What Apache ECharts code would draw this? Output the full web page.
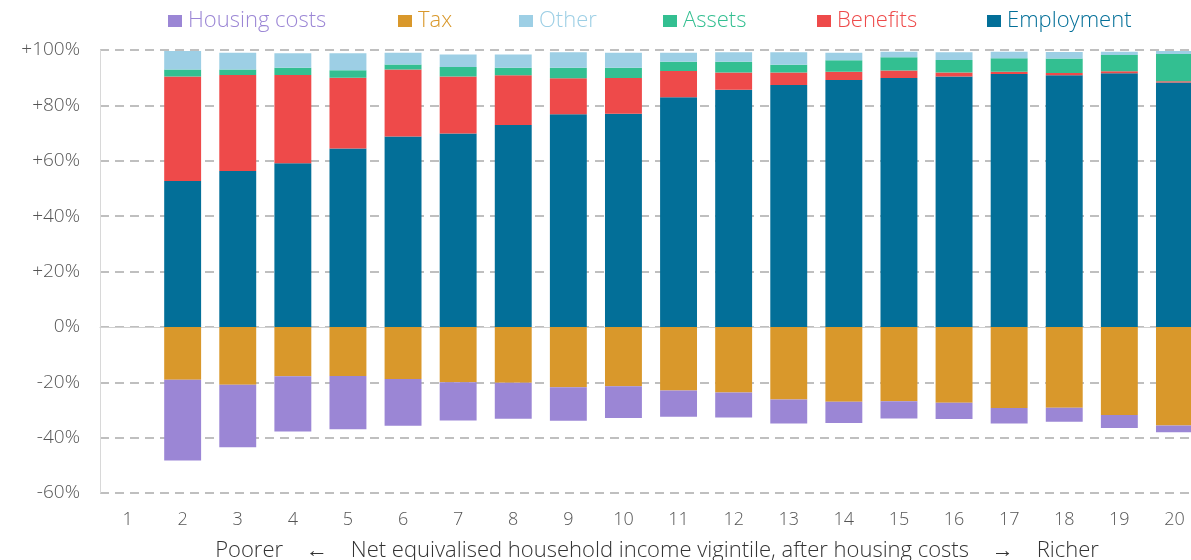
<!DOCTYPE html>
<html>
<head>
<meta charset="utf-8">
<script src="https://cdn.jsdelivr.net/npm/echarts@6/dist/echarts.min.js"></script>
<style>
html, body { margin: 0; padding: 0; background: #fff; }
#chart { width: 1191px; height: 560px; }
</style>
</head>
<body>
<div id="chart"></div>
<script>
var categories = ['1','2','3','4','5','6','7','8','9','10','11','12','13','14','15','16','17','18','19','20'];
var employment = [null, 52.7, 56.3, 59.1, 64.4, 68.8, 69.8, 72.9, 76.8, 77.0, 82.9, 85.6, 87.4, 89.2, 89.9, 90.4, 91.3, 90.9, 91.6, 88.3];
var benefits = [null, 37.7, 34.7, 31.9, 25.6, 24.2, 20.6, 18.0, 13.0, 12.9, 9.5, 6.3, 4.5, 2.9, 2.7, 1.5, 0.8, 0.8, 0.7, 0.4];
var assets = [null, 2.6, 2.0, 2.6, 2.7, 1.8, 3.5, 2.7, 3.8, 3.7, 3.4, 3.9, 2.8, 4.2, 4.8, 4.5, 4.9, 5.2, 5.9, 9.9];
var other = [null, 6.6, 6.0, 5.2, 6.1, 4.2, 4.5, 4.8, 5.6, 5.4, 3.2, 3.4, 4.5, 2.7, 2.0, 2.8, 2.4, 2.4, 1.2, 1.0];
var tax = [null, -19.1, -20.9, -17.8, -17.7, -18.8, -20.0, -20.2, -21.8, -21.4, -23.0, -23.7, -26.2, -27.0, -26.9, -27.4, -29.3, -29.2, -31.8, -35.6];
var housing = [null, -29.2, -22.6, -20.0, -19.3, -16.9, -13.8, -13.0, -12.1, -11.5, -9.5, -9.0, -8.7, -7.7, -6.2, -5.9, -5.6, -5.1, -4.7, -2.5];

var colors = {
	'Housing costs': '#9b86d5',
	'Tax': '#d9982b',
	'Other': '#9dcfe5',
	'Assets': '#33bf91',
	'Benefits': '#ee4a4a',
	'Employment': '#036f98'
};
var legendPos = [['Housing costs', 163], ['Tax', 393], ['Other', 514], ['Assets', 658], ['Benefits', 812], ['Employment', 982]];
var font = 'Open Sans';

var myChart = echarts.init(document.getElementById('chart'));

function bar(name, data) {
	return {
		name: name,
		type: 'bar',
		stack: 'all',
		data: data,
		barWidth: '67%',
		itemStyle: { color: colors[name] }
	};
}

var legends = legendPos.map(function (p) {
	return {
		data: [p[0]],
		left: p[1],
		top: 5,
		itemWidth: 14,
		itemHeight: 12,
		itemGap: 0,
		icon: 'rect',
		selectedMode: false,
		textStyle: {
			color: colors[p[0]],
			fontSize: 22,
			fontFamily: font,
			fontWeight: 300,
			padding: [0, 0, 0, 1]
		}
	};
});

var option = {
	backgroundColor: '#ffffff',
	animation: false,
	legend: legends,
	grid: {
		left: 100,
		top: 50,
		width: 1102,
		bottom: 67,
		containLabel: false,
		outerBoundsMode: 'none'
	},
	xAxis: {
		type: 'category',
		data: categories,
		name: 'Poorer    \u2190    Net equivalised household income vigintile, after housing costs    \u2192    Richer',
		nameLocation: 'middle',
		nameGap: 47,
		nameTextStyle: {
			color: '#333',
			fontSize: 22,
			fontFamily: font,
			fontWeight: 300,
			padding: [0, 0, 0, 12]
		},
		axisLine: { onZero: true, lineStyle: { color: '#d0d0d0', width: 1 } },
		axisTick: { show: false },
		axisLabel: {
			color: '#555',
			fontSize: 18,
			fontFamily: font,
			fontWeight: 300,
			margin: 18
		}
	},
	yAxis: {
		type: 'value',
		min: -60,
		max: 100,
		interval: 20,
		axisLine: { show: true, lineStyle: { color: '#d8d8d8', width: 1 } },
		axisTick: { show: false },
		axisLabel: {
			color: '#555',
			fontSize: 19,
			fontFamily: font,
			fontWeight: 300,
			margin: 20,
			formatter: function (v) {
				return v > 0 ? '+' + v + '%' : v + '%';
			}
		},
		splitLine: {
			lineStyle: { color: '#aaaaaa', type: [9, 6], width: 1.5 }
		}
	},
	series: [
		bar('Employment', employment),
		bar('Benefits', benefits),
		bar('Assets', assets),
		bar('Other', other),
		bar('Tax', tax),
		bar('Housing costs', housing)
	]
};

myChart.setOption(option);
</script>
</body>
</html>
